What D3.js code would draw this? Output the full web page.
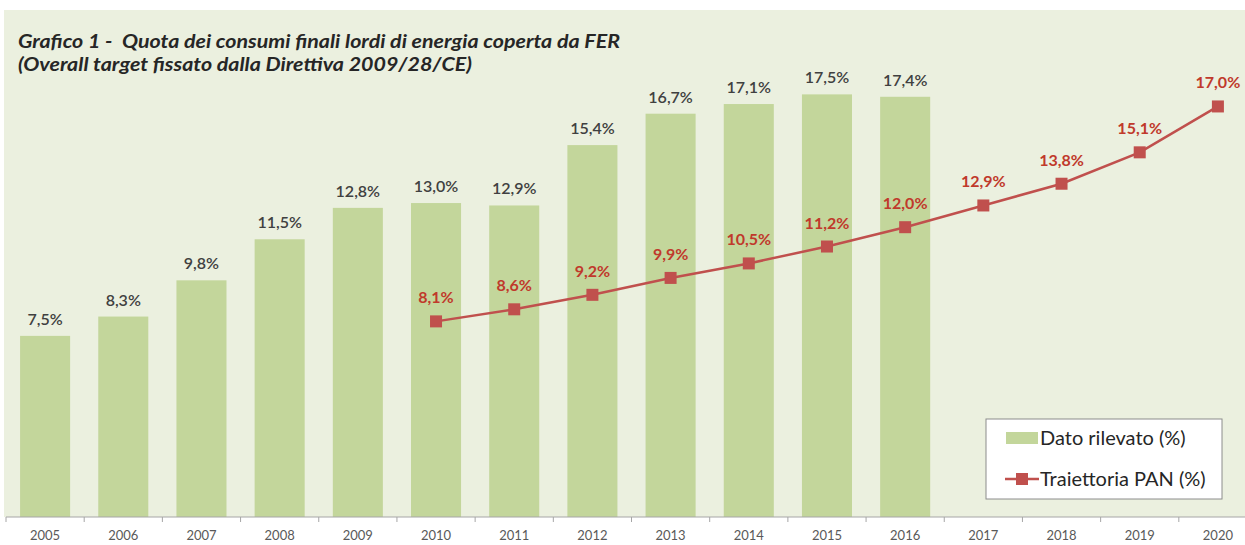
<!DOCTYPE html>
<html>
<head>
<meta charset="utf-8">
<script src="https://cdn.jsdelivr.net/npm/d3@7"></script>
<style>
  body { margin: 0; background: #fff; }
  svg text { font-family: Lato, "Open Sans", sans-serif; white-space: pre; }
</style>
</head>
<body>
<div id="chart"></div>
<script>
// data
const years = ['2005','2006','2007','2008','2009','2010','2011','2012','2013','2014','2015','2016','2017','2018','2019','2020'];
const rilevatoYears = ['2005','2006','2007','2008','2009','2010','2011','2012','2013','2014','2015','2016'];
const rilevato = [7.5, 8.3, 9.8, 11.5, 12.8, 13.0, 12.9, 15.4, 16.7, 17.1, 17.5, 17.4];
const panYears = ['2010','2011','2012','2013','2014','2015','2016','2017','2018','2019','2020'];
const pan = [8.1, 8.6, 9.2, 9.9, 10.5, 11.2, 12.0, 12.9, 13.8, 15.1, 17.0];
const titleLines = ['Grafico 1 -  Quota dei consumi finali lordi di energia coperta da FER',
                    '(Overall target fissato dalla Direttiva 2009/28/CE)'];
const legendLabels = ['Dato rilevato (%)', 'Traiettoria PAN (%)'];

const W = 1245, H = 545;
const barColor = '#c3d69b', red = '#c0504d', textGray = '#404040';
const fmt = v => d3.format('.1f')(v).replace('.', ',') + '%';

const svg = d3.select('#chart').append('svg')
  .attr('width', W).attr('height', H);

// panel background
svg.append('rect')
  .attr('x', 4).attr('y', 10)
  .attr('width', W - 4).attr('height', 507)
  .attr('fill', '#ebf0df');

const x = d3.scaleBand().domain(years).range([6, 1257]).paddingInner(0.36).paddingOuter(0.18);
const y = d3.scaleLinear().domain([0, 20]).range([517, 34]);

// title (Calibri-like width, stretched to the original line lengths)
const titleWidths = [602, 454];
svg.append('g').selectAll('text')
  .data(titleLines).enter()
  .append('text')
  .attr('x', 18)
  .attr('y', (d, i) => 48 + i * 23)
  .attr('fill', '#262626')
  .attr('textLength', (d, i) => titleWidths[i])
  .attr('lengthAdjust', 'spacingAndGlyphs')
  .style('font-size', '18px')
  .style('font-weight', 'bold')
  .style('font-style', 'italic')
  .text(d => d);

// bars
const bars = svg.append('g').classed('bars', true);
bars.selectAll('rect')
  .data(rilevato).enter()
  .append('rect')
  .attr('x', (d, i) => x(rilevatoYears[i]))
  .attr('y', d => y(d))
  .attr('width', x.bandwidth())
  .attr('height', d => y(0) - y(d))
  .attr('fill', barColor);

bars.selectAll('text')
  .data(rilevato).enter()
  .append('text')
  .attr('x', (d, i) => x(rilevatoYears[i]) + x.bandwidth() / 2)
  .attr('y', d => y(d) - 11)
  .attr('text-anchor', 'middle')
  .attr('fill', textGray)
  .style('font-size', '16px')
  .style('font-weight', '600')
  .text(d => fmt(d));

// x axis
const axis = svg.append('g')
  .attr('transform', 'translate(0,' + y(0) + ')');
axis.append('line')
  .attr('x1', 6).attr('x2', W)
  .attr('stroke', '#a6a6a6');
axis.selectAll('line.tick')
  .data(years).enter()
  .append('line')
  .classed('tick', true)
  .attr('x1', d => x(d) - x.step() * x.paddingInner() / 2)
  .attr('x2', d => x(d) - x.step() * x.paddingInner() / 2)
  .attr('y1', 0).attr('y2', 5)
  .attr('stroke', '#a6a6a6');
axis.selectAll('text')
  .data(years).enter()
  .append('text')
  .attr('x', d => x(d) + x.bandwidth() / 2)
  .attr('y', 23)
  .attr('text-anchor', 'middle')
  .attr('fill', '#595959')
  .style('font-size', '13px')
  .text(d => d);

// PAN line
const cx = (d, i) => x(panYears[i]) + x.bandwidth() / 2;
const line = d3.line().x(cx).y(d => y(d));
const pathG = svg.append('g').classed('pan', true);
pathG.append('path')
  .datum(pan)
  .attr('d', line)
  .attr('fill', 'none')
  .attr('stroke', red)
  .attr('stroke-width', 2.5);
pathG.selectAll('rect')
  .data(pan).enter()
  .append('rect')
  .attr('x', (d, i) => cx(d, i) - 6)
  .attr('y', d => y(d) - 6)
  .attr('width', 12).attr('height', 12)
  .attr('fill', red);
pathG.selectAll('text')
  .data(pan).enter()
  .append('text')
  .attr('x', cx)
  .attr('y', d => y(d) - 18)
  .attr('text-anchor', 'middle')
  .attr('fill', '#c0392b')
  .style('font-size', '16px')
  .style('font-weight', 'bold')
  .text(d => fmt(d));

// legend
const legend = svg.append('g').attr('transform', 'translate(986,419)');
legend.append('rect')
  .attr('width', 236).attr('height', 80)
  .attr('fill', '#fff')
  .attr('stroke', '#8c8c8c');
legend.append('rect')
  .attr('x', 20).attr('y', 13)
  .attr('width', 32).attr('height', 12)
  .attr('fill', barColor);
legend.append('line')
  .attr('x1', 19).attr('x2', 53)
  .attr('y1', 60).attr('y2', 60)
  .attr('stroke', red).attr('stroke-width', 2.5);
legend.append('rect')
  .attr('x', 30).attr('y', 54)
  .attr('width', 12).attr('height', 12)
  .attr('fill', red);
legend.selectAll('text')
  .data(legendLabels).enter()
  .append('text')
  .attr('x', 54)
  .attr('y', (d, i) => 26 + i * 41)
  .attr('fill', '#262626')
  .style('font-size', '20px')
  .text(d => d);
</script>
</body>
</html>
